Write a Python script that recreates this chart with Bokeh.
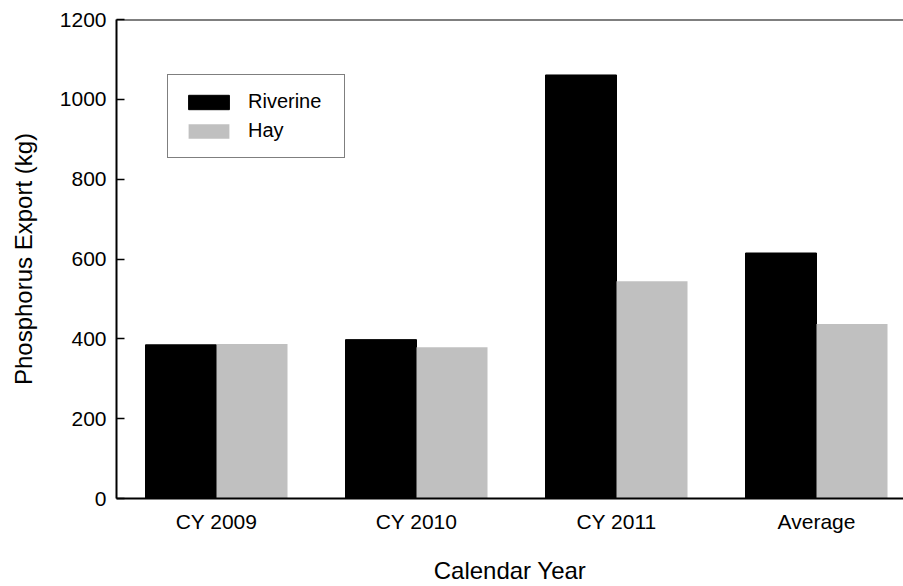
import numpy as np
from bokeh.plotting import figure
from bokeh.models import Range1d, FixedTicker, Legend, LegendItem, Span
from bokeh.embed import file_html
from bokeh.resources import INLINE

# Data
categories = ["CY 2009", "CY 2010", "CY 2011", "Average"]
riverine = [385, 398, 1061, 615]
hay = [387, 379, 544, 437]
y_ticks = [0, 200, 400, 600, 800, 1000, 1200]

FONT = "Liberation Sans"

pos = np.arange(len(categories)) + 0.5
bar_w = 0.355

p = figure(width=903, height=586, output_backend="svg", toolbar_location=None,
           x_range=Range1d(0, 3.935), y_range=Range1d(0, 1200),
           min_border_left=116, min_border_right=0, min_border_top=19,
           min_border_bottom=88)

r1 = p.vbar(x=list(pos - bar_w / 2), top=riverine, width=bar_w,
            fill_color="black", line_color="black")
r2 = p.vbar(x=list(pos + bar_w / 2), top=hay, width=bar_w,
            fill_color="#c0c0c0", line_color=None)

p.xgrid.visible = False
p.ygrid.visible = False
p.outline_line_color = None
p.background_fill_color = "white"
p.border_fill_color = "white"

top_line = Span(location=1200, dimension="width", line_color="black", line_width=2)
p.add_layout(top_line)

# x axis
xa = p.xaxis[0]
xa.ticker = FixedTicker(ticks=list(pos))
xa.major_label_overrides = {float(x): c for x, c in zip(pos, categories)}
xa.major_tick_in = 0
xa.major_tick_out = 0
xa.minor_tick_line_color = None
xa.axis_line_width = 2
xa.axis_line_color = "black"
xa.major_label_text_font = FONT
xa.major_label_text_font_size = "21px"
xa.major_label_text_color = "black"
xa.major_label_standoff = 11
xa.axis_label = "Calendar Year"
xa.axis_label_text_font = FONT
xa.axis_label_text_font_size = "24px"
xa.axis_label_text_font_style = "normal"
xa.axis_label_text_color = "black"
xa.axis_label_standoff = 21

# y axis
ya = p.yaxis[0]
ya.ticker = FixedTicker(ticks=y_ticks)
ya.major_tick_in = 8
ya.major_tick_out = 0
ya.major_tick_line_width = 1.5
ya.minor_tick_line_color = None
ya.axis_line_width = 2
ya.axis_line_color = "black"
ya.major_label_text_font = FONT
ya.major_label_text_font_size = "21px"
ya.major_label_text_color = "black"
ya.major_label_standoff = 10
ya.axis_label = "Phosphorus Export (kg)"
ya.axis_label_text_font = FONT
ya.axis_label_text_font_size = "24px"
ya.axis_label_text_font_style = "normal"
ya.axis_label_text_color = "black"
ya.axis_label_standoff = 20

legend = Legend(items=[LegendItem(label="Riverine", renderers=[r1]),
                       LegendItem(label="Hay", renderers=[r2])],
                location=(51, 340))
legend.border_line_color = "black"
legend.border_line_width = 1.5
legend.background_fill_color = "white"
legend.background_fill_alpha = 1
legend.label_text_font = FONT
legend.label_text_font_size = "20px"
legend.label_text_color = "black"
legend.glyph_width = 51
legend.glyph_height = 18
legend.label_height = 18
legend.label_width = 81
legend.label_standoff = 14
legend.spacing = 6
legend.padding = 15
legend.margin = 0
p.add_layout(legend, "center")

open("out.html", "w").write(file_html(p, INLINE))
